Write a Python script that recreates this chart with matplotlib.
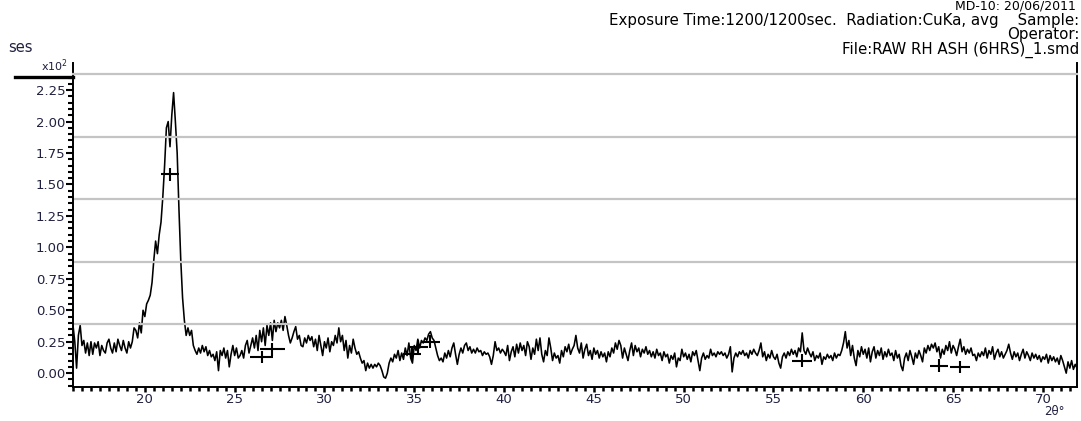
import numpy as np
import matplotlib.pyplot as plt
from matplotlib.ticker import MultipleLocator, FormatStrFormatter

plt.rcParams['font.family'] = ['DejaVu Sans']

# scan grid, 0.1 deg steps from 16 to 72 (2-theta)
two_theta = np.round(np.arange(160, 721) / 10.0, 1)

# intensity in units of x10^2, one row per degree (x.0 .. x.9)
intensity = [
    0.38, 0.25, 0.04, 0.30, 0.38, 0.22, 0.26, 0.16, 0.24, 0.14,   # 16
    0.25, 0.15, 0.24, 0.20, 0.25, 0.14, 0.22, 0.18, 0.16, 0.24,   # 17
    0.27, 0.20, 0.16, 0.24, 0.17, 0.27, 0.22, 0.18, 0.26, 0.20,   # 18
    0.16, 0.25, 0.20, 0.25, 0.36, 0.34, 0.28, 0.40, 0.32, 0.50,   # 19
    0.45, 0.55, 0.58, 0.62, 0.72, 0.90, 1.05, 0.95, 1.10, 1.20,   # 20
    1.40, 1.65, 1.95, 2.00, 1.80, 2.05, 2.23, 2.00, 1.75, 1.30,   # 21
    0.90, 0.60, 0.42, 0.30, 0.36, 0.30, 0.34, 0.22, 0.18, 0.15,   # 22
    0.20, 0.16, 0.22, 0.17, 0.21, 0.14, 0.18, 0.13, 0.15, 0.10,   # 23
    0.17, 0.02, 0.18, 0.14, 0.20, 0.12, 0.18, 0.05, 0.15, 0.22,   # 24
    0.14, 0.20, 0.12, 0.14, 0.18, 0.12, 0.22, 0.26, 0.16, 0.22,   # 25
    0.28, 0.20, 0.30, 0.18, 0.34, 0.25, 0.36, 0.22, 0.38, 0.30,   # 26
    0.40, 0.26, 0.42, 0.33, 0.40, 0.36, 0.42, 0.34, 0.45, 0.38,   # 27
    0.30, 0.24, 0.28, 0.33, 0.37, 0.27, 0.30, 0.22, 0.21, 0.28,   # 28
    0.24, 0.30, 0.26, 0.29, 0.21, 0.27, 0.18, 0.30, 0.22, 0.14,   # 29
    0.25, 0.20, 0.28, 0.17, 0.25, 0.22, 0.30, 0.24, 0.36, 0.25,   # 30
    0.30, 0.18, 0.26, 0.12, 0.22, 0.16, 0.27, 0.20, 0.15, 0.17,   # 31
    0.12, 0.08, 0.10, 0.02, 0.08, 0.04, 0.07, 0.04, 0.07, 0.05,   # 32
    0.08, 0.06, 0.02, -0.03, -0.04, 0.00, 0.08, 0.12, 0.09, 0.15, # 33
    0.12, 0.18, 0.10, 0.16, 0.11, 0.20, 0.14, 0.24, 0.12, 0.08,   # 34
    0.22, 0.18, 0.27, 0.20, 0.26, 0.24, 0.28, 0.26, 0.31, 0.33,   # 35
    0.28, 0.26, 0.20, 0.14, 0.10, 0.12, 0.09, 0.16, 0.12, 0.18,   # 36
    0.13, 0.20, 0.24, 0.15, 0.07, 0.15, 0.20, 0.16, 0.22, 0.24,   # 37
    0.18, 0.21, 0.16, 0.19, 0.16, 0.20, 0.17, 0.18, 0.14, 0.17,   # 38
    0.15, 0.16, 0.13, 0.07, 0.14, 0.25, 0.18, 0.20, 0.16, 0.19,   # 39
    0.17, 0.14, 0.22, 0.10, 0.17, 0.21, 0.13, 0.23, 0.16, 0.24,   # 40
    0.18, 0.22, 0.14, 0.25, 0.21, 0.11, 0.20, 0.15, 0.27, 0.18,   # 41
    0.28, 0.15, 0.09, 0.18, 0.14, 0.28, 0.20, 0.10, 0.16, 0.12,   # 42
    0.14, 0.08, 0.18, 0.13, 0.21, 0.17, 0.23, 0.15, 0.19, 0.22,   # 43
    0.30, 0.20, 0.16, 0.24, 0.12, 0.19, 0.23, 0.14, 0.18, 0.11,   # 44
    0.20, 0.15, 0.18, 0.12, 0.17, 0.13, 0.16, 0.09, 0.17, 0.13,   # 45
    0.20, 0.16, 0.24, 0.19, 0.26, 0.22, 0.12, 0.20, 0.15, 0.10,   # 46
    0.18, 0.24, 0.14, 0.22, 0.17, 0.20, 0.13, 0.19, 0.16, 0.21,   # 47
    0.15, 0.18, 0.13, 0.17, 0.12, 0.19, 0.14, 0.16, 0.10, 0.17,   # 48
    0.13, 0.15, 0.08, 0.14, 0.11, 0.16, 0.05, 0.12, 0.10, 0.19,   # 49
    0.13, 0.16, 0.11, 0.15, 0.09, 0.17, 0.14, 0.18, 0.10, 0.02,   # 50
    0.12, 0.16, 0.11, 0.14, 0.12, 0.19, 0.14, 0.16, 0.13, 0.17,   # 51
    0.15, 0.17, 0.14, 0.16, 0.12, 0.15, 0.21, 0.01, 0.12, 0.16,   # 52
    0.13, 0.17, 0.15, 0.18, 0.14, 0.16, 0.12, 0.18, 0.15, 0.19,   # 53
    0.16, 0.14, 0.18, 0.24, 0.13, 0.17, 0.10, 0.15, 0.12, 0.18,   # 54
    0.13, 0.11, 0.15, 0.08, 0.04, 0.13, 0.16, 0.12, 0.17, 0.14,   # 55
    0.19, 0.15, 0.18, 0.13, 0.20, 0.17, 0.32, 0.18, 0.15, 0.20,   # 56
    0.16, 0.13, 0.17, 0.10, 0.14, 0.12, 0.16, 0.07, 0.13, 0.11,   # 57
    0.15, 0.12, 0.14, 0.10, 0.16, 0.12, 0.15, 0.14, 0.18, 0.24,   # 58
    0.33, 0.20, 0.26, 0.14, 0.22, 0.12, 0.06, 0.18, 0.13, 0.21,   # 59
    0.15, 0.19, 0.12, 0.20, 0.09, 0.17, 0.21, 0.12, 0.18, 0.14,   # 60
    0.20, 0.11, 0.17, 0.13, 0.19, 0.14, 0.16, 0.10, 0.18, 0.12,   # 61
    0.15, 0.06, 0.02, 0.12, 0.16, 0.10, 0.18, 0.13, 0.07, 0.16,   # 62
    0.12, 0.18, 0.14, 0.09, 0.20, 0.16, 0.22, 0.18, 0.23, 0.20,   # 63
    0.24, 0.17, 0.21, 0.12, 0.19, 0.15, 0.22, 0.18, 0.25, 0.16,   # 64
    0.22, 0.19, 0.14, 0.21, 0.27, 0.17, 0.21, 0.15, 0.19, 0.16,   # 65
    0.20, 0.14, 0.15, 0.10, 0.16, 0.13, 0.17, 0.14, 0.20, 0.12,   # 66
    0.18, 0.15, 0.21, 0.11, 0.16, 0.19, 0.13, 0.17, 0.12, 0.15,   # 67
    0.18, 0.23, 0.16, 0.11, 0.17, 0.13, 0.16, 0.10, 0.15, 0.19,   # 68
    0.12, 0.17, 0.14, 0.10, 0.16, 0.12, 0.15, 0.11, 0.14, 0.09,   # 69
    0.13, 0.11, 0.15, 0.08, 0.14, 0.10, 0.13, 0.09, 0.12, 0.07,   # 70
    0.14, 0.10, 0.05, 0.00, 0.09, 0.04, 0.10, 0.03, 0.07, 0.04,   # 71
    0.06,                                                         # 72
]

# peak search markers (position, height, half width)
peak_pos = [21.4, 26.5, 27.1, 34.9, 35.2, 35.9, 56.6, 64.2, 65.4]
peak_height = [1.58, 0.13, 0.19, 0.15, 0.21, 0.25, 0.10, 0.06, 0.05]
peak_halfwidth = [0.5, 0.65, 0.7, 0.5, 0.55, 0.55, 0.55, 0.5, 0.55]

header_lines = [
    "Exposure Time:1200/1200sec.  Radiation:CuKa, avg    Sample:",
    "Operator:",
    "File:RAW RH ASH (6HRS)_1.smd",
]

fig = plt.figure(figsize=(10.81, 4.21), dpi=100)
ax = fig.add_axes([73 / 1081, 34 / 421, 1004 / 1081, 313 / 421])

ax.plot(two_theta, intensity, color='black', lw=1.15)
ax.errorbar(peak_pos, peak_height, xerr=peak_halfwidth, yerr=0.05,
            fmt='none', ecolor='black', elinewidth=1.5, capsize=0)

ax.set_xlim(16, 71.9)
ax.set_ylim(-0.11, 2.378)

# grey horizontal lines splitting the plot area into five bands
for f in [0.2, 0.4, 0.6, 0.8]:
    ax.plot([0, 1], [f, f], transform=ax.transAxes, color='#c4c4c4', lw=1.6)

ax.spines['top'].set_color('#c4c4c4')
ax.spines['top'].set_linewidth(1.6)
for s in ['left', 'right', 'bottom']:
    ax.spines[s].set_color('black')
    ax.spines[s].set_linewidth(1.4)

# spines poke out above the plot area, plus the bar under the x10^2 label
ax.plot([0, 0], [1, 1.035], transform=ax.transAxes, color='black', lw=1.4, clip_on=False)
ax.plot([1, 1], [1, 1.035], transform=ax.transAxes, color='black', lw=1.4, clip_on=False)
ax.plot([-0.058, 0], [0.99, 0.99], transform=ax.transAxes, color='black', lw=2.4, clip_on=False)
ax.text(-0.005, 1.0, r'x10$^2$', transform=ax.transAxes, ha='right', va='bottom',
        fontsize=8, color='#202040')

ax.yaxis.set_major_locator(MultipleLocator(0.25))
ax.yaxis.set_minor_locator(MultipleLocator(0.05))
ax.yaxis.set_major_formatter(FormatStrFormatter('%.2f'))
ax.xaxis.set_major_locator(MultipleLocator(5))
ax.xaxis.set_minor_locator(MultipleLocator(0.5))

ax.tick_params(axis='y', which='major', length=5, width=1.5, labelsize=9.5,
               labelcolor='#202040', pad=0.5)
ax.tick_params(axis='y', which='minor', length=3.6, width=1.5)
ax.tick_params(axis='x', which='major', length=3.5, width=1.8, labelsize=9.5,
               labelcolor='#202040', pad=0.5)
ax.tick_params(axis='x', which='minor', length=2.6, width=1.8)
ax.tick_params(right=False, top=False)

ax.text(0.977, -0.077, '2θ°', transform=ax.transAxes, ha='center', va='center',
        fontsize=8.5, color='#202040')

# header block
for i, line in enumerate(header_lines):
    fig.text(1079 / 1081, 1 - (20 + 15 * i) / 421, line, ha='right', va='center',
             fontsize=10.8, color='black')
fig.text(1076 / 1081, 1 - 6 / 421, 'MD-10: 20/06/2011', ha='right', va='center',
         fontsize=9, color='black')
fig.text(8 / 1081, 1 - 48 / 421, 'ses', ha='left', va='center',
         fontsize=10.5, color='#202040')

fig.savefig('out.png', dpi=100)
